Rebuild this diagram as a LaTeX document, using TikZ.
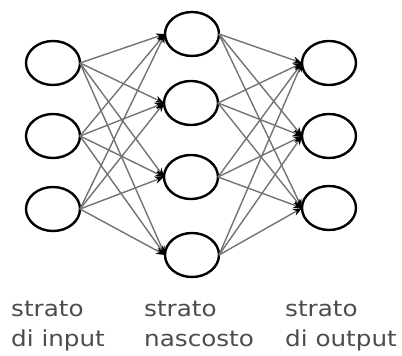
\documentclass[tikz,border=0pt]{standalone}
\usepackage{fontspec}
\setmainfont{DejaVu Sans}
\usetikzlibrary{shapes.geometric,arrows.meta}
\begin{document}
\begin{tikzpicture}[x=1pt,y=-1pt,
  neuron/.style={ellipse,draw=black,line width=2.4pt,minimum width=54pt,minimum height=44pt,inner sep=0pt,outer sep=0pt},
  link/.style={draw=black!55,line width=1.4pt,-{Stealth[length=9pt,width=7pt,black]}},
  layerlabel/.style={anchor=base west,inner sep=0pt,text=black!70,font=\fontsize{22}{29}\selectfont}
]
\useasboundingbox (0,0) rectangle (402,356);

% input layer
\node[neuron] (i1) at (53,63) {};
\node[neuron] (i2) at (53,136) {};
\node[neuron] (i3) at (53,209) {};
% hidden layer
\node[neuron] (h1) at (192,34) {};
\node[neuron] (h2) at (191,103) {};
\node[neuron] (h3) at (191,177) {};
\node[neuron] (h4) at (192,255) {};
% output layer
\node[neuron] (o1) at (329,63) {};
\node[neuron] (o2) at (329,136) {};
\node[neuron] (o3) at (329,208) {};

% full connections input -> hidden -> output
\foreach \a in {1,2,3}
  \foreach \b in {1,2,3,4}
    \draw[link] (i\a.east) -- (h\b.west);
\foreach \a in {1,2,3,4}
  \foreach \b in {1,2,3}
    \draw[link] (h\a.east) -- (o\b.west);

% layer captions
\node[layerlabel] (l1a) at (11,316) {\scalebox{1.12}[1]{strato}};
\node[layerlabel] (l1b) at (11,346) {\scalebox{1.12}[1]{di input}};
\node[layerlabel] (l2a) at (144,316) {\scalebox{1.12}[1]{strato}};
\node[layerlabel] (l2b) at (144,346) {\scalebox{1.12}[1]{nascosto}};
\node[layerlabel] (l3a) at (285,316) {\scalebox{1.12}[1]{strato}};
\node[layerlabel] (l3b) at (285,346) {\scalebox{1.12}[1]{di output}};
\end{tikzpicture}
\end{document}
